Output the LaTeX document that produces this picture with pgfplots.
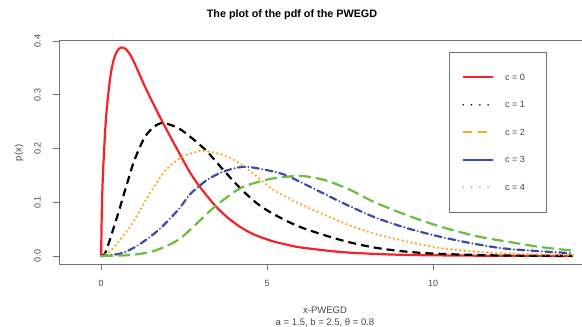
\documentclass[border=0pt]{standalone}
\usepackage{fontspec}
\setmainfont{Liberation Sans}
\usepackage{pgfplots}
\pgfplotsset{compat=1.18}
\definecolor{txt}{RGB}{70,70,70}
\definecolor{axc}{RGB}{115,115,115}
\definecolor{cred}{RGB}{245,35,40}
\definecolor{corange}{RGB}{250,170,30}
\definecolor{cblue}{RGB}{60,75,165}
\definecolor{cgreen}{RGB}{105,190,60}
\begin{document}
\begin{tikzpicture}
\path[use as bounding box] (-59pt,-63pt) rectangle (523pt,264pt);
\begin{axis}[
  at={(0,0)}, anchor=south west,
  scale only axis, width=523pt, height=224pt,
  xmin=-1.27, xmax=14.48, ymin=-0.01488, ymax=0.4019,
  axis lines=left, axis line style={-, axc, line width=0.7pt},
  tick align=outside, major tick length=6pt,
  tick style={axc, line width=0.7pt},
  xtick={0,5,10}, ytick={0,0.1,0.2,0.3,0.4},
  /pgf/number format/assume math mode=true,
  yticklabel={\pgfmathprintnumber[fixed,precision=1,zerofill]{\tick}},
  xticklabel shift=9.7pt, yticklabel shift=12.2pt,
  xticklabel style={font=\fontsize{9}{10}\selectfont, text=txt, inner sep=0pt},
  yticklabel style={font=\fontsize{9}{10}\selectfont, text=txt, rotate=90, anchor=south, inner sep=0pt},
  every axis title shift=0pt,
  title={The plot of the pdf of the PWEGD},
  title style={font=\bfseries\fontsize{10.8}{12}\selectfont, at={(axis description cs:0.4455,1.1116)}, anchor=center},
  xlabel={x-PWEGD\\a = 1.5, b = 2.5, θ = 0.8},
  xlabel style={font=\fontsize{9.5}{12}\selectfont, text=txt, align=center, at={(axis description cs:0.5086,-0.236)}, anchor=center},
  ylabel={p(x)},
  ylabel style={font=\fontsize{9.5}{12}\selectfont, text=txt, at={(axis description cs:-0.0765,0.4955)}, anchor=center, rotate=0},
  legend image code/.code={\draw[line width=1.8pt,#1] (0pt,0pt) -- (30pt,0pt);},
  legend cell align=left,
  legend style={at={(axis description cs:0.7457,0.9464)}, anchor=north west,
    draw=axc, line width=0.7pt, inner xsep=13pt, inner ysep=20.7pt, row sep=19pt, column sep=11pt,
    font=\fontsize{9}{10}\selectfont, text=txt,
    nodes={inner sep=0pt}},
  extra description/.code={\draw[axc, line width=0.7pt] (rel axis cs:0,1) -- (rel axis cs:1,1);},
  every axis plot/.append style={line width=2.2pt},
]
% c = 0
\addplot[cred, smooth, forget plot] coordinates {
(0,0) (0.01,0.05) (0.03,0.11) (0.06,0.16) (0.1,0.21) (0.15,0.26) (0.22,0.305) (0.3,0.343) (0.4,0.370) (0.5,0.383) (0.6,0.388) (0.7,0.387) (0.85,0.377) (1.01,0.358) (1.32,0.315) (1.62,0.277) (1.92,0.241) (2.32,0.195) (2.68,0.155) (2.98,0.128) (3.43,0.094) (3.8,0.072) (4.19,0.054) (4.6,0.040) (5.19,0.027) (5.6,0.021) (6.0,0.016) (7.2,0.0075) (8.2,0.004) (9.2,0.002) (10.5,0.001) (12,0.0004) (14.2,0.0001)};
% c = 1
\addplot[black, smooth, forget plot, dash pattern=on 8pt off 5pt] coordinates {
(0,0) (0.11,0.004) (0.26,0.03) (0.51,0.079) (0.81,0.141) (1.0,0.178) (1.32,0.222) (1.67,0.244) (1.92,0.247) (2.32,0.238) (2.68,0.222) (3.18,0.195) (3.68,0.160) (4.19,0.126) (4.69,0.098) (5.19,0.078) (5.99,0.054) (7.2,0.030) (8.2,0.016) (9.2,0.008) (10.2,0.004) (12,0.001) (14.2,0.0003)};
% c = 2
\addplot[corange, smooth, forget plot, line width=2.6pt, line cap=round, dash pattern=on 0pt off 4.5pt] coordinates {
(0,0) (0.31,0.011) (0.91,0.058) (1.42,0.112) (1.92,0.158) (2.42,0.184) (2.87,0.194) (3.08,0.196) (3.68,0.188) (4.19,0.172) (4.69,0.148) (5.19,0.123) (5.99,0.097) (7.2,0.064) (8.2,0.042) (9.2,0.027) (10.2,0.015) (11.3,0.008) (12.5,0.004) (14.2,0.002)};
% c = 3
\addplot[cblue, smooth, forget plot, line cap=round, dash pattern=on 7pt off 3.5pt on 0pt off 3.5pt] coordinates {
(0,0) (0.61,0.005) (1.11,0.020) (1.72,0.048) (2.32,0.086) (2.68,0.115) (3.18,0.141) (3.68,0.157) (4.29,0.166) (4.89,0.161) (5.49,0.152) (5.99,0.138) (7.2,0.101) (8.2,0.073) (9.2,0.052) (10.2,0.036) (11.3,0.022) (12.3,0.013) (14.2,0.005)};
% c = 4
\addplot[cgreen, smooth, forget plot, dash pattern=on 12pt off 5pt] coordinates {
(0,0) (0.91,0.002) (1.62,0.010) (2.32,0.030) (2.87,0.060) (3.43,0.092) (4.19,0.126) (4.99,0.142) (5.69,0.148) (6.2,0.148) (6.8,0.140) (7.5,0.123) (8.2,0.101) (9.2,0.076) (10.2,0.055) (11.3,0.037) (12.3,0.026) (13.2,0.017) (14.2,0.010)};
% legend (as drawn in the reference)
\addlegendimage{draw=cred}
\addlegendentry{\makebox[28pt][l]{\rule[-3pt]{0pt}{10pt}c = 0}}
\addlegendimage{draw=black, line width=2.4pt, line cap=round, dash pattern=on 0pt off 8.3pt}
\addlegendentry{\makebox[28pt][l]{\rule[-3pt]{0pt}{10pt}c = 1}}
\addlegendimage{draw=corange, dash pattern=on 9pt off 6pt}
\addlegendentry{\makebox[28pt][l]{\rule[-3pt]{0pt}{10pt}c = 2}}
\addlegendimage{draw=cblue}
\addlegendentry{\makebox[28pt][l]{\rule[-3pt]{0pt}{10pt}c = 3}}
\addlegendimage{draw=cgreen, line width=2.4pt, line cap=round, dash pattern=on 0pt off 8.3pt}
\addlegendentry{\makebox[28pt][l]{\rule[-3pt]{0pt}{10pt}c = 4}}
\end{axis}
\end{tikzpicture}
\end{document}
